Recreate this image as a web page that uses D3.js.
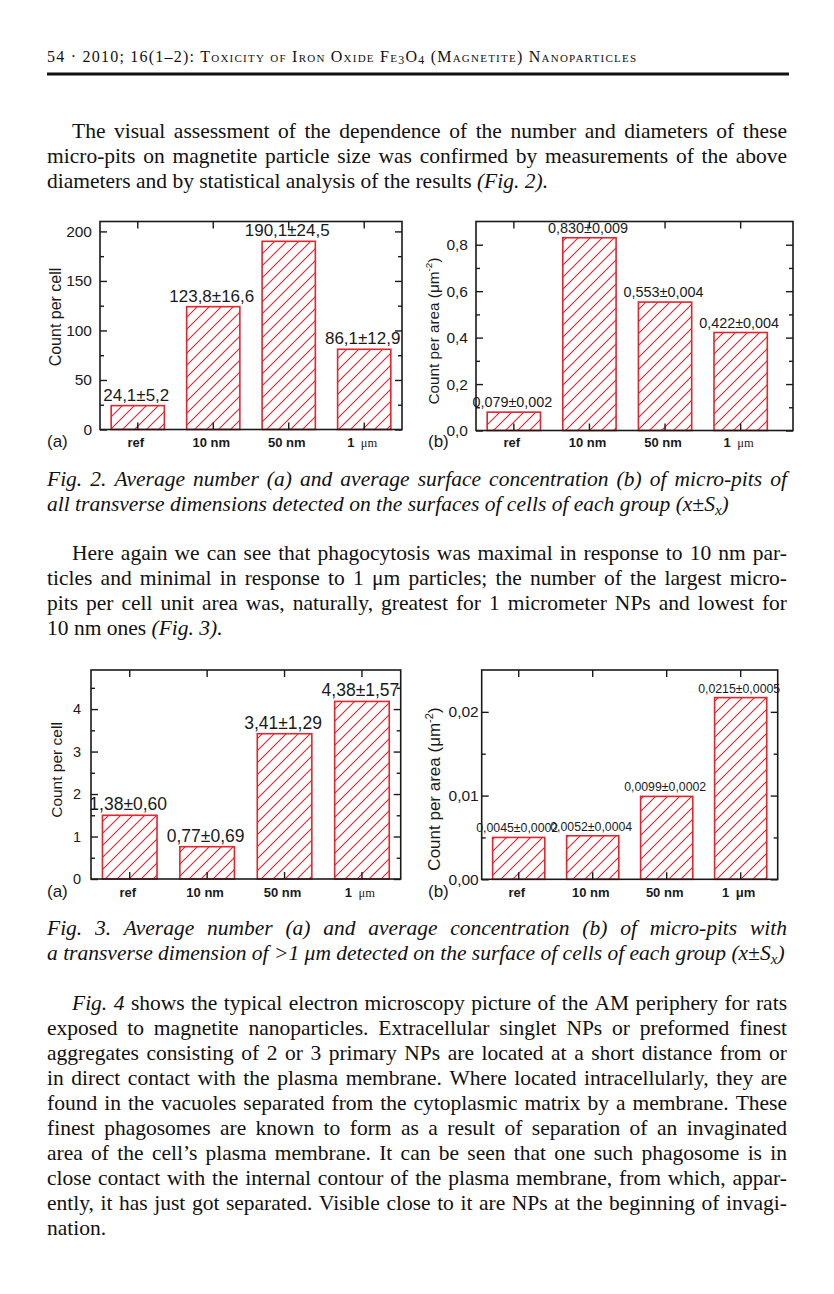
<!DOCTYPE html>
<html lang="en">
<head>
<meta charset="UTF-8">
<title>Micro-pits on magnetite-exposed cells</title>
<script src="https://d3js.org/d3.v7.min.js"></script>
<style>
  body { margin: 0; background: #fff; }
  svg { display: block; }
  .page text { font-family: "Liberation Serif", "Times New Roman", serif; fill: #111; }
  .chart text { font-family: "Liberation Sans", Arial, sans-serif; fill: #1a1a1a; }
  .chart .tick line { stroke: #1a1a1a; stroke-width: 1.4; }
</style>
</head>
<body>
<script>
// groups shown on every x axis
const groups = ["ref", "10 nm", "50 nm", "1 μm"];

// Fig. 2a - count per cell
const fig2aValues = [24.1, 124, 190, 81];
const fig2aLabels = ["24,1±5,2", "123,8±16,6", "190,1±24,5", "86,1±12,9"];
const fig2aTicks = [0, 50, 100, 150, 200];
const fig2aTickLabels = ["0", "50", "100", "150", "200"];
const fig2aMinor = [25, 75, 125, 175];

// Fig. 2b - count per area
const fig2bValues = [0.079, 0.830, 0.553, 0.422];
const fig2bLabels = ["0,079±0,002", "0,830±0,009", "0,553±0,004", "0,422±0,004"];
const fig2bTicks = [0, 0.2, 0.4, 0.6, 0.8];
const fig2bTickLabels = ["0,0", "0,2", "0,4", "0,6", "0,8"];
const fig2bMinor = [0.1, 0.3, 0.5, 0.7];

// Fig. 3a - count per cell, pits > 1 um
const fig3aValues = [1.5, 0.76, 3.42, 4.18];
const fig3aLabels = ["1,38±0,60", "0,77±0,69", "3,41±1,29", "4,38±1,57"];
const fig3aTicks = [0, 1, 2, 3, 4];
const fig3aTickLabels = ["0", "1", "2", "3", "4"];
const fig3aMinor = [0.5, 1.5, 2.5, 3.5, 4.5];

// Fig. 3b - count per area, pits > 1 um
const fig3bValues = [0.0050, 0.0052, 0.0099, 0.0217];
const fig3bLabels = ["0,0045±0,0002", "0,0052±0,0004", "0,0099±0,0002", "0,0215±0,0005"];
const fig3bTicks = [0, 0.01, 0.02];
const fig3bTickLabels = ["0,00", "0,01", "0,02"];
const fig3bMinor = [0.005, 0.015];

const W = 834, H = 1294;
const red = "#e1262d", ink = "#1a1a1a";

const svg = d3.select("body").append("svg").attr("width", W).attr("height", H);

// hatch fill for the bars
const defs = svg.append("defs");
const hp = 12;
const pat = defs.append("pattern").attr("id", "hatch")
  .attr("patternUnits", "userSpaceOnUse").attr("width", hp).attr("height", hp);
pat.append("rect").attr("width", hp).attr("height", hp).attr("fill", "#fff");
pat.append("path").attr("d", `M-2,2 L2,-2 M0,${hp} L${hp},0 M${hp - 2},${hp + 2} L${hp + 2},${hp - 2}`)
  .attr("stroke", red).attr("stroke-width", 1.1);

// ---------- page text ----------
const fs = 21.5;
const page = svg.append("g").attr("class", "page");

// "*" toggles italic, "~" toggles subscript
function parseRuns(str) {
  const runs = [];
  let it = false, sub = false, buf = "";
  for (const ch of str) {
    if (ch === "*" || ch === "~") {
      if (buf) runs.push({ t: buf, it, sub });
      buf = "";
      if (ch === "*") it = !it; else sub = !sub;
    } else buf += ch;
  }
  if (buf) runs.push({ t: buf, it, sub });
  return runs;
}

function splitWords(runs) {
  const words = [[]];
  runs.forEach(r => {
    r.t.split(" ").forEach((part, k) => {
      if (k > 0) words.push([]);
      if (part) words[words.length - 1].push({ ...r, t: part });
    });
  });
  return words.filter(w => w.length);
}

function writeLine(str, x0, yb, x1, size = fs) {
  const words = splitWords(parseRuns(str));
  const nodes = words.map(w => {
    const t = page.append("text").attr("y", yb).attr("font-size", size);
    let shifted = false;
    w.forEach(r => {
      const ts = t.append("tspan").text(r.t).attr("font-style", r.it ? "italic" : null);
      if (r.sub && !shifted) { ts.attr("dy", size * 0.2).attr("font-size", size * 0.7); shifted = true; }
      else if (r.sub) ts.attr("font-size", size * 0.7);
      else if (shifted) { ts.attr("dy", -size * 0.2); shifted = false; }
    });
    return t;
  });
  let widths = nodes.map(n => n.node().getComputedTextLength());
  const total = d3.sum(widths);
  const minGap = size * 0.17;
  let gap = size * 0.25, sx = 1;
  if (x1 && nodes.length > 1) {
    gap = (x1 - x0 - total) / (nodes.length - 1);
    if (gap < minGap) {
      // squeeze glyphs slightly when the line is too long
      sx = (x1 - x0 - minGap * (nodes.length - 1)) / total;
      widths = widths.map(w => w * sx);
      gap = minGap;
    }
  }
  let x = x0;
  nodes.forEach((n, i) => {
    n.attr("x", null).attr("transform", `translate(${x},0) scale(${sx},1)`);
    x += widths[i] + gap;
  });
}

// running head
const head = page.append("text").attr("x", 47).attr("y", 62).attr("font-size", 16)
  .attr("textLength", 589).attr("lengthAdjust", "spacing")
  .style("font-variant", "small-caps");
head.append("tspan").text("54 · 2010; 16(1–2): Toxicity of Iron Oxide Fe");
head.append("tspan").text("3").attr("font-size", 12).attr("dy", 2);
head.append("tspan").text("O").attr("dy", -2);
head.append("tspan").text("4").attr("font-size", 12).attr("dy", 2);
head.append("tspan").text(" (Magnetite) Nanoparticles").attr("dy", -2);
page.append("line").attr("x1", 47).attr("x2", 789).attr("y1", 74).attr("y2", 74)
  .attr("stroke", "#111").attr("stroke-width", 3);

const L = 47, R = 787, IND = 72, LH = 25;

writeLine("The visual assessment of the dependence of the number and diameters of these", IND, 138, R);
writeLine("micro-pits on magnetite particle size was confirmed by measurements of the above", L, 138 + LH, R);
writeLine("diameters and by statistical analysis of the results *(Fig. 2).*", L, 138 + 2 * LH);

writeLine("*Fig. 2. Average number (a) and average surface concentration (b) of micro-pits of*", L, 486, R);
writeLine("*all transverse dimensions detected on the surfaces of cells of each group (x±S~x~)*", L, 486 + LH);

writeLine("Here again we can see that phagocytosis was maximal in response to 10 nm par-", IND, 560, R);
writeLine("ticles and minimal in response to 1 μm particles; the number of the largest micro-", L, 560 + LH, R);
writeLine("pits per cell unit area was, naturally, greatest for 1 micrometer NPs and lowest for", L, 560 + 2 * LH, R);
writeLine("10 nm ones *(Fig. 3).*", L, 560 + 3 * LH);

writeLine("*Fig. 3. Average number (a) and average concentration (b) of micro-pits with*", L, 935, R);
writeLine("*a transverse dimension of >1 μm detected on the surface of cells of each group (x±S~x~)*", L, 935 + LH);

const para3 = [
  "*Fig. 4* shows the typical electron microscopy picture of the AM periphery for rats",
  "exposed to magnetite nanoparticles. Extracellular singlet NPs or preformed finest",
  "aggregates consisting of 2 or 3 primary NPs are located at a short distance from or",
  "in direct contact with the plasma membrane. Where located intracellularly, they are",
  "found in the vacuoles separated from the cytoplasmic matrix by a membrane. These",
  "finest phagosomes are known to form as a result of separation of an invaginated",
  "area of the cell’s plasma membrane. It can be seen that one such phagosome is in",
  "close contact with the internal contour of the plasma membrane, from which, appar-",
  "ently, it has just got separated. Visible close to it are NPs at the beginning of invagi-",
  "nation."
];
para3.forEach((s, i) => {
  const last = i === para3.length - 1;
  writeLine(s, i === 0 ? IND : L, 1010 + i * LH, last ? null : R);
});

// ---------- charts ----------
const panels = [
  { values: fig2aValues, labels: fig2aLabels, ticks: fig2aTicks, tickLabels: fig2aTickLabels, minor: fig2aMinor,
    ymax: 210, left: 100, right: 402, top: 221.5, bottom: 429.5, bandRight: 402,
    labelSize: 17, tickSize: 15.5, tickPad: 8, catY: 447, letter: "(a)", letterX: 47,
    title: "cell", titleX: 61, titleY: 317, titleSize: 16, muBold: false },
  { values: fig2bValues, labels: fig2bLabels, ticks: fig2bTicks, tickLabels: fig2bTickLabels, minor: fig2bMinor,
    ymax: 0.9, left: 476, right: 793, top: 221.5, bottom: 430.5, bandRight: 778.5,
    labelSize: 14.4, tickSize: 15.5, tickPad: 8, catY: 447, letter: "(b)", letterX: 428,
    title: "area", titleX: 438.5, titleY: 331, titleSize: 15.3, muBold: false },
  { values: fig3aValues, labels: fig3aLabels, ticks: fig3aTicks, tickLabels: fig3aTickLabels, minor: fig3aMinor,
    ymax: 4.92, left: 91, right: 400.7, top: 670, bottom: 879, bandRight: 400.7,
    labelSize: 17.5, tickSize: 14.5, tickPad: 10, catY: 897, letter: "(a)", letterX: 47,
    title: "cell", titleX: 61.5, titleY: 770, titleSize: 15.5, muBold: false },
  { values: fig3bValues, labels: fig3bLabels, ticks: fig3bTicks, tickLabels: fig3bTickLabels, minor: fig3bMinor,
    ymax: 0.025, left: 481.7, right: 777.7, top: 670, bottom: 879.3, bandRight: 777.7,
    labelSize: 12.3, tickSize: 15.5, tickPad: 3, catY: 897, letter: "(b)", letterX: 428,
    title: "area", titleX: 440, titleY: 789, titleSize: 17, muBold: true }
];

function drawPanel(p) {
  const g = svg.append("g").attr("class", "chart");
  const y = d3.scaleLinear().domain([0, p.ymax]).range([p.bottom, p.top]);
  const x = d3.scaleBand().domain(groups).range([p.left, p.bandRight])
    .paddingInner(0.295).paddingOuter(0.148);
  const bw = x.bandwidth();

  g.selectAll("rect.bar").data(p.values).join("rect")
    .attr("class", "bar")
    .attr("x", (d, i) => x(groups[i]))
    .attr("y", d => y(d))
    .attr("width", bw)
    .attr("height", d => y(0) - y(d))
    .attr("fill", "url(#hatch)")
    .attr("stroke", red).attr("stroke-width", 1.6);

  g.selectAll("text.val").data(p.labels).join("text")
    .attr("class", "val")
    .attr("x", (d, i) => x(groups[i]) + bw / 2 - 1.5)
    .attr("y", (d, i) => y(p.values[i]) - 5)
    .attr("text-anchor", "middle")
    .attr("font-size", p.labelSize)
    .text(d => d);

  const noDomain = s => s.select(".domain").remove();

  g.append("g").attr("transform", `translate(${p.left},0)`)
    .call(d3.axisLeft(y).tickValues(p.ticks).tickFormat((d, i) => p.tickLabels[i])
      .tickSize(-7).tickPadding(p.tickPad))
    .call(noDomain)
    .call(s => s.selectAll("text").attr("font-size", p.tickSize).attr("fill", ink)
      .style("font-family", '"Liberation Sans", Arial, sans-serif'));
  g.append("g").attr("transform", `translate(${p.left},0)`)
    .call(d3.axisLeft(y).tickValues(p.minor).tickFormat("").tickSize(-4)).call(noDomain);
  g.append("g").attr("transform", `translate(${p.right},0)`)
    .call(d3.axisRight(y).tickValues(p.ticks).tickFormat("").tickSize(-7)).call(noDomain);
  g.append("g").attr("transform", `translate(${p.right},0)`)
    .call(d3.axisRight(y).tickValues(p.minor).tickFormat("").tickSize(-4)).call(noDomain);
  g.append("g").attr("transform", `translate(0,${p.top})`)
    .call(d3.axisTop(x).tickFormat("").tickSize(-7)).call(noDomain);
  g.append("g").attr("transform", `translate(0,${p.bottom})`)
    .call(d3.axisBottom(x).tickFormat("").tickSize(-7)).call(noDomain);

  g.append("rect")
    .attr("x", p.left).attr("y", p.top)
    .attr("width", p.right - p.left).attr("height", p.bottom - p.top)
    .attr("fill", "none").attr("stroke", ink).attr("stroke-width", 1.6);

  // category labels
  groups.forEach(c => {
    const t = g.append("text")
      .attr("x", x(c) + bw / 2 - 2).attr("y", p.catY)
      .attr("text-anchor", "middle").attr("font-size", 13).attr("font-weight", "bold");
    if (c === "1 μm") {
      t.append("tspan").text("1\u2002");
      const mu = t.append("tspan").text("μm");
      if (!p.muBold) mu.attr("font-weight", "normal").attr("font-size", 12.5)
        .style("font-family", '"Liberation Serif", serif');
    } else t.text(c);
  });

  g.append("text").attr("x", p.letterX).attr("y", p.catY)
    .attr("font-size", 17).attr("fill", "#333").text(p.letter);

  const title = g.append("text")
    .attr("transform", `translate(${p.titleX},${p.titleY}) rotate(-90)`)
    .attr("text-anchor", "middle").attr("font-size", p.titleSize);
  if (p.title === "cell") title.text("Count per cell");
  else {
    title.append("tspan").text("Count per area (μm");
    title.append("tspan").text("-2").attr("font-size", p.titleSize * 0.65).attr("dy", -p.titleSize * 0.4);
    title.append("tspan").text(")").attr("dy", p.titleSize * 0.4);
  }
}

panels.forEach(drawPanel);
</script>
</body>
</html>
